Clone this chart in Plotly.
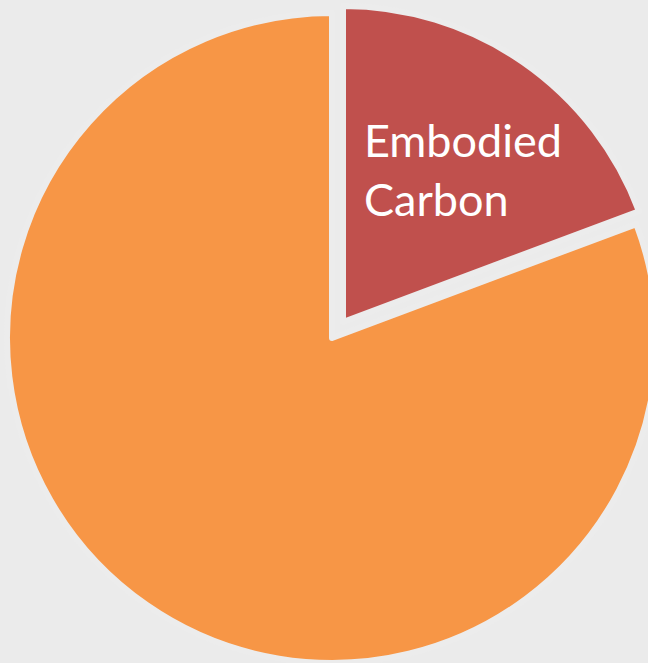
import plotly.graph_objects as go

labels = ["Embodied Carbon", "Operational Carbon"]
values = [19.3, 80.7]
colors = ["#c0504d", "#f79646"]
label_lines = ["Embodied", "Carbon"]

# figure canvas (slightly larger than the 648x663 viewport, excess is hidden)
WF, HF = 670, 670
BG = "#ebebeb"
BORDER = "#ececec"

def dom(cx, cy, r):
    return dict(x=[(cx - r) / WF, (cx + r) / WF],
                y=[(HF - (cy + r)) / HF, (HF - (cy - r)) / HF])

# main (orange) slice: red slice transparent in this trace
fig = go.Figure()
fig.add_trace(
    go.Pie(
        labels=labels,
        values=values,
        sort=False,
        direction="clockwise",
        rotation=0,
        marker=dict(colors=["rgba(0,0,0,0)", colors[1]],
                    line=dict(color=BORDER, width=[0, 6])),
        textinfo="none",
        hoverinfo="skip",
        showlegend=False,
        domain=dom(332, 338, 325),
    )
)
# exploded red slice, shifted up-right
fig.add_trace(
    go.Pie(
        labels=labels,
        values=values,
        sort=False,
        direction="clockwise",
        rotation=0,
        marker=dict(colors=[colors[0], "rgba(0,0,0,0)"],
                    line=dict(color=BORDER, width=[6, 0])),
        textinfo="none",
        hoverinfo="skip",
        showlegend=False,
        domain=dom(343, 322, 316),
    )
)

fig.add_annotation(
    text="<br>".join(label_lines),
    xref="paper", yref="paper",
    x=362 / WF, y=(HF - 170) / HF,
    xanchor="left", yanchor="middle",
    align="left",
    showarrow=False,
    font=dict(family="Lato", size=45, color="white"),
)

fig.update_layout(
    width=WF, height=HF,
    margin=dict(l=0, r=0, t=0, b=0),
    paper_bgcolor=BG,
    plot_bgcolor=BG,
)

fig.write_html(
    "out.html",
    config={"displayModeBar": False},
    post_script=(
        "document.body.style.margin='0';"
        "document.body.style.overflow='hidden';"
        "document.body.style.background='#ebebeb';"
        "document.documentElement.style.overflow='hidden';"
    ),
)
